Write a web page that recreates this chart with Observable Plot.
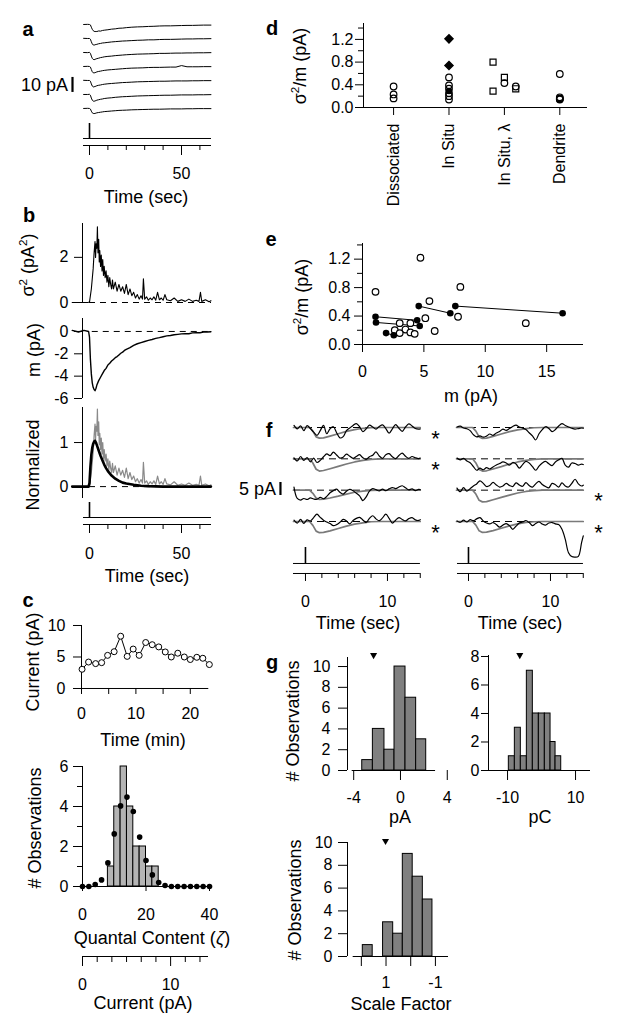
<!DOCTYPE html>
<html><head><meta charset="utf-8">
<script src="https://cdn.jsdelivr.net/npm/d3@7"></script>
<script src="https://cdn.jsdelivr.net/npm/@observablehq/plot@0.6"></script>
<style>
html,body{margin:0;padding:0;background:#fff;}
#fig{position:relative;width:624px;height:1023px;overflow:hidden;background:#fff;font-family:"Liberation Sans",Arial,Helvetica,sans-serif;color:#000;}
#fig svg{position:absolute;overflow:visible;background:transparent;max-width:none;}
.lab{position:absolute;white-space:nowrap;line-height:1;}
.lab sup{font-size:0.65em;vertical-align:0.6em;line-height:0;}
</style></head><body><div id="fig"></div>
<script>
// ---------------- DATA ----------------
// Panel a: seven successive responses (pA) vs time (s)
const aTime = [-3.2, -1, 0, 0.5, 1, 1.5, 2, 2.5, 3, 3.5, 4, 5, 6, 7, 8, 10, 12, 14, 16, 18, 20, 23, 26, 29, 32, 35, 38, 41, 44, 47, 50, 53, 56, 59, 62, 66];
const aTrace1 = [0, 0.1, 0, -0.3, -1.8, -3.2, -4.1, -4.5, -4.8, -4.6, -4.7, -4.3, -4.4, -4.0, -3.8, -3.5, -3.1, -2.9, -2.5, -2.4, -2.1, -1.8, -1.6, -1.5, -1.3, -1.2, -1.0, -0.9, -0.9, -0.8, -0.7, -0.6, -0.6, -0.5, -0.4, -0.4];
const aTrace2 = [0.1, 0, 0, -0.5, -2.2, -3.6, -4.3, -4.4, -4.2, -4.0, -3.9, -3.5, -3.3, -3.0, -2.9, -2.6, -2.3, -2.1, -1.9, -1.7, -1.6, -1.4, -1.2, -1.1, -0.9, -0.9, -0.7, -0.6, -0.6, -0.5, -0.4, -0.3, -0.3, -0.2, -0.2, -0.1];
const aTrace3 = [0, -0.1, 0.1, -0.6, -2.4, -3.9, -4.6, -4.8, -4.6, -4.3, -4.1, -3.8, -3.4, -3.2, -2.9, -2.6, -2.4, -2.1, -1.9, -1.7, -1.5, -1.3, -1.1, -1.0, -0.9, -0.8, -0.6, -0.6, -0.5, -0.4, -0.4, -0.3, -0.3, -0.2, -0.2, -0.1];
const aTrace4 = [0, 0.1, 0, -0.4, -2.0, -3.5, -4.2, -4.3, -4.1, -3.9, -3.6, -3.3, -3.1, -2.8, -2.6, -2.3, -2.1, -1.9, -1.7, -1.5, -1.3, -1.1, -1.0, -0.9, -0.7, -0.6, -0.6, -0.5, -0.4, -0.4, 0.6, -0.2, -0.2, -0.2, -0.1, -0.1];
const aTrace5 = [0.1, 0, 0, -0.5, -2.3, -3.7, -4.3, -4.2, -4.0, -3.8, -3.5, -3.2, -3.0, -2.7, -2.5, -2.2, -2.0, -1.8, -1.6, -1.4, -1.3, -1.1, -0.9, -0.8, -0.7, -0.6, -0.5, -0.5, -0.4, -0.3, -0.3, -0.3, -0.2, -0.2, -0.1, -0.1];
const aTrace6 = [0, 0, 0.1, -0.5, -2.4, -3.8, -4.4, -4.5, -4.3, -4.1, -3.8, -3.5, -3.2, -3.0, -2.7, -2.4, -2.2, -1.9, -1.7, -1.5, -1.4, -1.2, -1.0, -0.9, -0.8, -0.7, -0.6, -0.5, -0.5, -0.4, -0.3, -0.3, -0.3, -0.2, -0.2, -0.1];
const aTrace7 = [0, 0.1, 0, -0.4, -1.8, -2.9, -3.3, -3.4, -3.3, -3.1, -2.9, -2.7, -2.5, -2.3, -2.1, -1.9, -1.7, -1.5, -1.3, -1.2, -1.1, -0.9, -0.8, -0.7, -0.6, -0.5, -0.5, -0.4, -0.3, -0.3, -0.3, -0.2, -0.2, -0.1, -0.1, -0.1];
const aTraces = [aTrace1, aTrace2, aTrace3, aTrace4, aTrace5, aTrace6, aTrace7];

// Panel b: variance, mean and normalized time courses
const bTime = [-9.4, -4, -1, 0, 1, 2, 2.5, 3, 3.3, 3.6,
  4, 4.3, 4.6, 5, 5.3, 5.6, 6, 6.4, 6.8, 7.2,
  7.6, 8, 8.5, 9, 9.5, 10, 10.5, 11, 11.5, 12,
  12.5, 13, 14, 15, 16, 17, 18, 19, 20, 21,
  22, 23, 24, 25, 26, 27, 28, 28.8, 29.3, 30,
  31, 32, 33, 34, 35, 36, 37, 38, 39, 40,
  41, 42, 44, 46, 48, 50, 52, 54, 56, 58,
  59.5, 60.3, 61, 63, 65, 66];
const bSigma2 = [0, 0, 0, 0.02, 0.6, 1.5, 2.2, 2.7, 2.0, 2.6,
  2.4, 3.35, 2.2, 2.8, 1.8, 2.3, 1.6, 2.1, 1.4, 1.9,
  1.2, 1.6, 1.1, 1.4, 0.9, 1.2, 0.7, 1.1, 0.8, 0.6,
  1.0, 0.6, 0.9, 0.5, 0.8, 0.5, 0.7, 0.4, 0.8, 0.35,
  0.6, 0.3, 0.45, 0.2, 0.35, 0.15, 0.3, 0.15, 1.05, 0.15,
  0.25, 0.1, 0.2, 0.12, 0.25, 0.1, 0.45, 0.12, 0.2, 0.1,
  0.35, 0.12, 0.08, 0.2, 0.05, 0.12, 0.05, 0.15, 0.05, 0.1,
  0.05, 0.45, 0.05, 0.12, 0.03, 0.08];
const bNormVar = [0, 0, 0, 0.01, 0.32, 0.79, 1.16, 1.42, 1.05, 1.37,
  1.26, 1.76, 1.16, 1.47, 0.95, 1.21, 0.84, 1.1, 0.74, 1.0,
  0.63, 0.84, 0.58, 0.74, 0.47, 0.63, 0.37, 0.58, 0.42, 0.32,
  0.53, 0.32, 0.47, 0.26, 0.42, 0.26, 0.37, 0.21, 0.42, 0.18,
  0.32, 0.16, 0.24, 0.11, 0.18, 0.08, 0.16, 0.08, 0.55, 0.08,
  0.13, 0.05, 0.11, 0.06, 0.13, 0.05, 0.24, 0.06, 0.11, 0.05,
  0.18, 0.06, 0.04, 0.11, 0.03, 0.06, 0.03, 0.08, 0.03, 0.05,
  0.03, 0.24, 0.03, 0.06, 0.02, 0.04];
const bMeanTime = [-9.4, -6, -3, -0.5, 0, 0.5, 1, 1.5, 2, 2.5,
  3, 3.5, 4, 5, 6, 7, 8, 9, 10, 11,
  12, 13, 14, 15, 16, 17, 18, 19, 20, 22,
  24, 26, 28, 30, 32, 34, 36, 38, 40, 42,
  44, 46, 48, 50, 52, 54, 56, 58, 60, 62,
  64, 66];
const bMean = [0.1, -0.05, 0.1, 0, -0.5, -2.5, -3.8, -4.6, -5.0, -5.2,
  -5.3, -5.1, -4.8, -4.4, -4.1, -3.8, -3.5, -3.3, -3.0, -2.85,
  -2.65, -2.5, -2.35, -2.25, -2.1, -1.95, -1.85, -1.7, -1.6, -1.45,
  -1.25, -1.1, -1.0, -0.9, -0.8, -0.72, -0.62, -0.55, -0.47, -0.4,
  -0.36, -0.3, -0.26, -0.22, -0.19, -0.2, -0.13, -0.1, -0.12, -0.06,
  -0.05, -0.02];
const bNormMeanTime = [-9.4, -0.5, 0, 0.5, 1, 1.5, 2, 2.5, 3, 3.5, 4, 5, 6, 7, 8, 9, 10, 12, 14, 16, 18, 20, 24, 28, 32, 40, 66];
const bNormMean = [0, 0, 0.08, 0.45, 0.72, 0.88, 0.97, 1.02, 1.04, 1.0, 0.94, 0.82, 0.7, 0.6, 0.5, 0.42, 0.35, 0.25, 0.18, 0.13, 0.09, 0.07, 0.04, 0.02, 0.01, 0, 0];

// Panel c: current over time, quantal-content histogram
const cTime = [0.1, 1.3, 2.6, 3.7, 4.8, 6.0, 7.2, 8.4, 9.5, 10.6, 11.8, 13.0, 14.2, 15.4, 16.5, 17.7, 18.9, 20.0, 21.2, 22.3, 23.5];
const cCurrent = [3.05, 4.2, 3.95, 4.1, 5.26, 5.84, 8.3, 5.1, 6.26, 5.26, 7.3, 6.95, 6.6, 5.8, 5.0, 5.6, 5.0, 4.6, 4.95, 4.8, 3.8];
const cBinEdges = [8, 10, 12, 14, 16, 18, 20, 22, 24];
const cBinCounts = [1, 4, 6, 4, 2, 2, 1, 1];
const cFitX = [0, 2, 4, 6, 8, 10, 12, 14, 16, 18, 20, 22, 24, 26, 28, 30, 32, 34, 36, 38, 40];
const cFitY = [0, 0, 0.1, 0.33, 1.18, 2.63, 4.03, 4.47, 3.75, 2.47, 1.3, 0.58, 0.2, 0.05, 0, 0, 0, 0, 0, 0, 0];
const cCurrentTicks = [0, 1.667, 3.333, 5, 6.667, 8.333, 10, 11.667, 13.333];

// Panel d: sigma^2/m by preparation
const dCategories = ["Dissociated", "In Situ", "In Situ, λ", "Dendrite"];
const dCircleCat = [1, 1, 1, 2, 2, 2, 2, 2, 2, 3, 3, 4, 4, 4, 4, 4];
const dCircleCol = [0, 0, 0, 0, 0, 0, 0, 0, 0, 0, 1, 0, 0, 0, 0, 0];
const dCircleVal = [0.37, 0.23, 0.16, 0.53, 0.39, 0.33, 0.25, 0.2, 0.14, 0.43, 0.37, 0.59, 0.18, 0.16, 0.15, 0.14];
const dFilledCat = [2];
const dFilledVal = [0.29];
const dDiamondCat = [2, 2];
const dDiamondVal = [1.21, 0.74];
const dSquareCat = [3, 3, 3, 3];
const dSquareCol = [-1, -1, 0, 1];
const dSquareVal = [0.8, 0.29, 0.53, 0.33];

// Panel e: sigma^2/m vs m
const eOpenM = [1.06, 4.72, 7.97, 5.45, 5.12, 7.78, 13.3, 3.03, 3.9, 5.88, 2.63, 3.5, 3.9, 4.25, 3.03];
const eOpenV = [0.74, 1.22, 0.81, 0.61, 0.37, 0.39, 0.30, 0.30, 0.30, 0.19, 0.20, 0.21, 0.17, 0.15, 0.16];
const ePairM1 = [1.06, 1.1, 4.58, 7.56, 1.92];
const ePairV1 = [0.39, 0.31, 0.54, 0.54, 0.16];
const ePairM2 = [4.45, 4.66, 7.15, 16.3, 2.55];
const ePairV2 = [0.34, 0.26, 0.44, 0.44, 0.13];

// Panel f: single trials (black) vs scaled template (gray), pA
const fGrayTime = [-1.46, 0.5, 0.9, 1.3, 1.7, 2.2, 3, 4, 5, 6, 7, 8, 9, 14];
const fGrayL = [
  [0, 0, -1.4, -3.6, -4.1, -4.0, -3.3, -2.4, -1.5, -0.8, -0.3, -0.1, 0, 0],
  [0, 0, -1.6, -4.0, -4.7, -4.5, -3.8, -2.9, -2.0, -1.2, -0.6, -0.2, 0, 0],
  [0, 0, -1.2, -3.0, -3.6, -3.5, -3.0, -2.3, -1.5, -0.8, -0.4, -0.1, 0, 0],
  [0, 0, -1.5, -3.7, -4.3, -4.2, -3.6, -2.7, -1.8, -1.0, -0.5, -0.1, 0, 0]];
const fGrayR = [
  [0, 0, -1.4, -3.6, -4.2, -4.1, -3.4, -2.5, -1.6, -0.9, -0.4, -0.1, 0, 0],
  [0, 0, -1.6, -4.1, -4.7, -4.6, -3.9, -3.0, -2.0, -1.2, -0.6, -0.2, 0, 0],
  [0, 0, -1.5, -3.9, -4.5, -4.4, -3.7, -2.8, -1.9, -1.1, -0.5, -0.2, 0, 0],
  [0, 0, -1.4, -3.6, -4.2, -4.1, -3.5, -2.6, -1.7, -0.9, -0.4, -0.1, 0, 0]];
const fTime = [-1.4, -1.0, -0.6, -0.2, 0.2, 0.6, 1.0, 1.4, 1.8, 2.2,
  2.6, 3.0, 3.4, 3.8, 4.2, 4.6, 5.0, 5.4, 5.8, 6.2,
  6.6, 7.0, 7.4, 7.8, 8.2, 8.6, 9.0, 9.4, 9.8, 10.2,
  10.6, 11.0, 11.4, 11.8, 12.2, 12.6, 13.0, 13.4, 13.8, 14.0];
const fBlackL = [
  [0.8, -0.5, 0.6, -1.2, 0.7, -0.4, -1.8, -3.0, -1.2, 0.8,
   -2.4, -0.5, 0.3, -2.0, -4.0, -3.5, -1.2, -0.2, 0.8, 1.5,
   0.3, -1.6, -0.5, 0.9, 0.2, -0.6, 0.4, 1.0, -0.4, -2.2,
   -0.5, 1.1, -0.3, -1.5, 0.2, 1.4, 0.6, -0.4, -0.6, -0.5],
  [0.4, -0.8, 0.9, -0.6, 0.5, -1.2, 0.3, -1.4, -0.6, 0.8,
   1.9, 1.2, 2.6, 1.5, 0.3, 0.6, 1.8, 1.0, 0.2, 0.9,
   1.6, 0.4, -0.2, 0.8, 1.4, 2.7, 1.1, 0.2, 1.6, 2.0,
   0.8, 0.1, 1.3, 2.2, 1.0, 0.2, 0.9, 0.4, 0.1, 0.3],
  [1.2, -3.2, -3.8, -3.2, -3.6, -3.0, -3.4, -3.5, -2.8, -3.3,
   -2.4, -1.0, -0.2, 0.4, -0.8, -1.5, -0.4, 0.3, -0.2, -1.2,
   -2.2, -4.0, -2.6, -0.4, 0.6, 0.2, -0.3, 0.4, -0.2, 0.5,
   1.0, 0.6, 1.2, 1.7, 0.9, 0.1, 0.5, -0.2, 0.3, 0.2],
  [0.5, -0.6, 0.8, -0.7, 0.6, 0.2, 1.5, 2.8, 1.6, 0.5,
   -0.2, -0.8, -1.6, -1.2, -0.3, 0.8, 0.2, -0.9, 0.4, 1.2,
   1.6, 0.6, -0.4, 1.2, 2.2, 1.0, 0.3, 1.4, 2.8, 1.2,
   -0.6, 0.5, 1.5, 0.8, 0.2, 1.1, 1.5, 0.6, 0.4, 0.7]];
const fBlackR = [
  [0.2, 0.5, -0.2, -0.5, -1.2, -2.8, -3.6, -3.2, -3.7, -3.3,
   -2.5, -3.0, -2.1, -1.5, -0.6, -1.1, -0.4, 0.4, 0.9, 0.2,
   -0.2, -0.8, -2.0, -3.2, -4.8, -2.4, -0.8, 0.3, -0.4, -1.6,
   -0.8, 0.6, 1.5, 0.8, 0.2, -0.3, -0.6, -0.4, -0.2, -0.3],
  [0.3, -0.4, 0.2, -0.8, -1.5, -3.0, -4.4, -3.6, -4.2, -3.4,
   -3.9, -3.1, -2.4, -1.8, -1.2, -1.6, -2.4, -1.4, -2.0, -3.6,
   -2.2, -1.0, -1.6, -3.0, -4.4, -2.8, -1.6, -1.0, -1.9, -2.6,
   -1.2, -0.4, 0.2, -2.4, -3.2, -1.6, -1.8, -2.4, -2.0, -2.2],
  [0.8, -0.6, 1.0, -0.4, 0.6, 1.6, 2.4, 3.6, 2.6, 1.4,
   1.8, 3.0, 2.0, 1.2, 1.6, 2.6, 1.8, 1.4, 2.8, 2.0,
   1.5, 2.9, 1.8, 1.2, 2.4, 3.4, 2.2, 1.4, 0.9, 2.6,
   2.1, 1.2, 2.8, 1.6, 1.2, 2.6, 4.2, 2.4, 1.6, 1.9],
  [0.2, -0.3, 0.5, -0.2, 0.7, 0.3, 1.0, 1.5, 0.2, -0.6,
   -0.9, -0.4, -1.2, -2.2, -1.4, -0.8, -1.6, -3.0, -1.8, -0.6,
   -0.2, 0.3, -0.4, -1.6, -0.8, -0.2, -1.0, -1.4, -0.6, -0.4,
   -0.9, -1.2, -3.0, -6.8, -12.0, -13.5, -13.7, -13.4, -8.0, -5.5]];
const fStarRowsL = [0, 1, 3];
const fStarRowsR = [2, 3];

// Panel g: histograms
const gAmpEdges = [-4.13, -3.27, -2.36, -1.37, -0.51, 0.43, 1.34, 2.2, 3.0];
const gAmpCounts = [0, 1, 4, 2, 10, 7, 3, 0];
const gAmpMean = -2.3;
const gChgEdges = [-9.62, -7.85, -6.09, -4.32, -2.56, -0.79, 0.97, 2.65, 4.12, 5.79];
const gChgCounts = [1, 3, 1, 7, 4, 4, 4, 2, 1];
const gChgMean = -6.4;
const gScaleEdges = [2.33, 1.94, 1.54, 1.12, 0.71, 0.32, -0.08, -0.49, -0.88, -1.53];
const gScaleCounts = [0, 1, 0, 3, 2, 9, 7, 5, 0];
const gScaleMean = 1.02;

// ---------------- DRAWING ----------------
const FONT = '"Liberation Sans", Arial, Helvetica, sans-serif';
const fig = document.getElementById("fig");

function mk(o) {
  const svg = Plot.plot({
    width: o.fx1 - o.fx0 + o.mL + o.mR,
    height: o.fy1 - o.fy0 + o.mT + o.mB,
    marginLeft: o.mL, marginRight: o.mR, marginTop: o.mT, marginBottom: o.mB,
    x: o.x, y: o.y,
    style: {fontFamily: FONT, fontSize: (o.fs || 16) + "px", color: "#000", background: "transparent", overflow: "visible"},
    marks: o.marks
  });
  svg.style.position = "absolute";
  svg.style.left = (o.fx0 - o.mL) + "px";
  svg.style.top = (o.fy0 - o.mT) + "px";
  fig.appendChild(svg);
}
function lab(html, x, y, o = {}) {
  const d = document.createElement("div");
  d.className = "lab";
  d.innerHTML = html;
  d.style.left = x + "px";
  d.style.top = y + "px";
  d.style.fontSize = (o.size || 18) + "px";
  if (o.bold) d.style.fontWeight = "bold";
  const tx = o.anchor === "end" ? "-100%" : "-50%";
  d.style.transform = `translate(${tx},-50%)` + (o.rot ? " rotate(-90deg)" : "");
  fig.appendChild(d);
}
const fmt0 = d => String(d);
const fmt1 = d3.format(".1f");
const ax = (dir, ticks, size, pad, fmt = fmt0, extra = {}) =>
  (dir === "x" ? Plot.axisX : Plot.axisY)({ticks, tickSize: size, tickPadding: pad, tickFormat: fmt, label: null, ...extra});
const minor = (dir, ticks, size) => ax(dir, ticks, size, 0, () => "");
const pairs = (ts, vs, off = 0) => ts.map((t, k) => ({t, v: vs[k] + off}));
const bins = (edges, counts) => counts.map((c, i) => ({x1: edges[i], x2: edges[i + 1], c})).filter(b => b.c > 0);
const triDown = {draw(ctx, size) { const r = Math.sqrt(size / Math.PI); ctx.moveTo(-r * 1.1, -r * 0.75); ctx.lineTo(r * 1.1, -r * 0.75); ctx.lineTo(0, r * 1.15); ctx.closePath(); }};

// ---- panel a
const A_ROW = 9.33;
mk({fx0: 83, fx1: 211, fy0: 16, fy1: 145, mL: 15, mR: 5, mT: 2, mB: 30,
  x: {domain: [-3.26, 66.3]}, y: {domain: [-80.67, 5.33], axis: null},
  marks: [
    aTraces.map((vals, i) => Plot.line(pairs(aTime, vals, -i * A_ROW), {x: "t", y: "v", stroke: "#000", strokeWidth: 1})),
    Plot.ruleX([0], {y1: -66, y2: -76, strokeWidth: 1.6}),
    Plot.ruleY([-76], {x1: -3.26, x2: 66.3}),
    Plot.ruleY([-80.67]),
    ax("x", [0, 50], 10, 12), minor("x", [10, 20, 30, 40, 60], 5),
    Plot.ruleX([-9.24], {y1: -35.3, y2: -45.3, strokeWidth: 2.2})
  ]});

// ---- panel b
const bX = {domain: [-3.8, 66.3], axis: null};
mk({fx0: 82, fx1: 211, fy0: 223, fy1: 302, mL: 30, mR: 5, mT: 5, mB: 5, x: bX, y: {domain: [0, 3.5]},
  marks: [
    Plot.ruleY([0], {x1: 0, x2: 66.3, strokeDasharray: "6,5"}),
    Plot.line(pairs(bTime, bSigma2), {x: "t", y: "v", stroke: "#000", strokeWidth: 1.1}),
    Plot.ruleX([-3.8]),
    ax("y", [0, 2], 8, 6)
  ]});
mk({fx0: 82, fx1: 211, fy0: 318, fy1: 398, mL: 30, mR: 5, mT: 5, mB: 5, x: bX, y: {domain: [-6, 1.16]},
  marks: [
    Plot.ruleY([0], {x1: 1.5, x2: 66.3, strokeDasharray: "6,5"}),
    Plot.line(pairs(bMeanTime, bMean), {x: "t", y: "v", stroke: "#000", strokeWidth: 1.4}),
    Plot.ruleX([-3.8]),
    ax("y", [0, -2, -4, -6], 8, 6)
  ]});
mk({fx0: 82, fx1: 211, fy0: 407, fy1: 498, mL: 30, mR: 5, mT: 5, mB: 5, x: bX, y: {domain: [-0.27, 1.795]},
  marks: [
    Plot.ruleY([0], {x1: 0, x2: 66.3, strokeDasharray: "6,5"}),
    Plot.line(pairs(bTime, bNormVar), {x: "t", y: "v", stroke: "#8a8a8a", strokeWidth: 1.2}),
    Plot.line(pairs(bNormMeanTime, bNormMean), {x: "t", y: "v", stroke: "#000", strokeWidth: 2.6}),
    Plot.ruleX([-3.8]),
    ax("y", [0, 1], 8, 6)
  ]});
mk({fx0: 83, fx1: 211, fy0: 499, fy1: 524, mL: 5, mR: 5, mT: 2, mB: 30,
  x: {domain: [-3.26, 66.3]}, y: {domain: [0, 25], axis: null},
  marks: [
    Plot.ruleX([0], {y1: 7, y2: 22, strokeWidth: 1.6}),
    Plot.ruleY([7], {x1: -3.26, x2: 66.3}),
    Plot.ruleY([0]),
    ax("x", [0, 50], 9, 14), minor("x", [10, 20, 30, 40, 60], 5)
  ]});

// ---- panel c
mk({fx0: 81, fx1: 208.3, fy0: 625, fy1: 688, mL: 40, mR: 8, mT: 5, mB: 30,
  x: {domain: [0, 23.4]}, y: {domain: [0, 10]},
  marks: [
    Plot.ruleX([0]), Plot.ruleY([0]),
    Plot.line(pairs(cTime, cCurrent), {x: "t", y: "v", stroke: "#000", strokeWidth: 1}),
    Plot.dot(pairs(cTime, cCurrent), {x: "t", y: "v", r: 3, fill: "#fff", stroke: "#000", strokeWidth: 1}),
    ax("y", [0, 5, 10], 8, 8),
    ax("x", [0, 10, 20], 6, 13), minor("x", [5, 15], 6)
  ]});
mk({fx0: 82, fx1: 209, fy0: 766, fy1: 886, mL: 40, mR: 8, mT: 5, mB: 30,
  x: {domain: [0, 40]}, y: {domain: [0, 6]},
  marks: [
    Plot.rect(bins(cBinEdges, cBinCounts), {x1: "x1", x2: "x2", y1: 0, y2: "c", fill: "#b4b4b4", stroke: "#000", strokeWidth: 1}),
    Plot.ruleY([0]), Plot.ruleX([0]),
    Plot.dot(pairs(cFitX, cFitY), {x: "t", y: "v", r: 2.8, fill: "#000"}),
    ax("y", [0, 2, 4, 6], 9, 5), minor("y", [1, 3, 5], 5),
    ax("x", [0, 20, 40], 5, 17)
  ]});
mk({fx0: 82, fx1: 208, fy0: 940, fy1: 956, mL: 5, mR: 8, mT: 2, mB: 30,
  x: {domain: [0, 14.3]}, y: {domain: [0, 1], axis: null},
  marks: [
    Plot.ruleY([0]),
    ax("x", [0, 10], 10, 12), minor("x", cCurrentTicks.filter(v => v !== 0 && v !== 10), 6)
  ]});

// ---- panel d
const D_JIT = 0.205;
const dx = (cat, col) => cat + col * D_JIT;
mk({fx0: 363, fx1: 587, fy0: 23, fy1: 107, mL: 40, mR: 5, mT: 5, mB: 10,
  x: {domain: [0.457, 4.5]}, y: {domain: [0, 1.48]},
  marks: [
    Plot.ruleX([0.457]), Plot.ruleY([0]),
    ax("y", [0, 0.4, 0.8, 1.2], 8, 2, fmt1), minor("y", [0.2, 0.6, 1.0, 1.4], 5),
    Plot.axisX({ticks: [1, 2, 3, 4], tickSize: 8, tickPadding: 8, tickRotate: -90, tickFormat: i => dCategories[i - 1], label: null, fontSize: 16}),
    Plot.dot(dCircleVal.map((v, i) => ({x: dx(dCircleCat[i], dCircleCol[i]), v})), {x: "x", y: "v", r: 3.3, fill: "none", stroke: "#000", strokeWidth: 1.2}),
    Plot.dot(dFilledVal.map((v, i) => ({x: dx(dFilledCat[i], 0), v})), {x: "x", y: "v", r: 3.3, fill: "#000"}),
    Plot.dot(dDiamondVal.map((v, i) => ({x: dx(dDiamondCat[i], 0), v})), {x: "x", y: "v", r: 3.6, symbol: "diamond2", fill: "#000", stroke: "#000"}),
    Plot.dot(dSquareVal.map((v, i) => ({x: dx(dSquareCat[i], dSquareCol[i]), v})), {x: "x", y: "v", r: 3.4, symbol: "square", fill: "none", stroke: "#000", strokeWidth: 1.2})
  ]});

// ---- panel e
mk({fx0: 362, fx1: 583, fy0: 243, fy1: 344, mL: 40, mR: 8, mT: 5, mB: 30,
  x: {domain: [0, 18]}, y: {domain: [0, 1.42]},
  marks: [
    Plot.ruleX([0]), Plot.ruleY([0]),
    ax("y", [0, 0.4, 0.8, 1.2], 8, 4, fmt1), minor("y", [0.2, 0.6, 1.0, 1.4], 5),
    ax("x", [0, 5, 10, 15], 8, 13),
    Plot.link(ePairM1.map((m, i) => ({m1: m, v1: ePairV1[i], m2: ePairM2[i], v2: ePairV2[i]})), {x1: "m1", y1: "v1", x2: "m2", y2: "v2", stroke: "#000", strokeWidth: 1}),
    Plot.dot(pairs(eOpenM, eOpenV), {x: "t", y: "v", r: 3.3, fill: "#fff", stroke: "#000", strokeWidth: 1.2}),
    Plot.dot(pairs(ePairM1, ePairV1).concat(pairs(ePairM2, ePairV2)), {x: "t", y: "v", r: 3.3, fill: "#000"})
  ]});

// ---- panel f
const F_ROW = 12.05;
function fPanel(fx0, xmin, blacks, grays, starRows, withBar) {
  const xmax = 14.02;
  mk({fx0, fx1: fx0 + (xmax - xmin) * 8.2, fy0: 410, fy1: 573, mL: 30, mR: 25, mT: 2, mB: 30,
    x: {domain: [xmin, xmax]}, y: {domain: [-56.15, 6.54], axis: null},
    marks: [
      blacks.map((vals, i) => [
        Plot.ruleY([-i * F_ROW], {x1: xmin, x2: xmax, strokeDasharray: "7,5", strokeWidth: 1}),
        Plot.line(pairs(fGrayTime, grays[i], -i * F_ROW), {x: "t", y: "v", stroke: "#7a7a7a", strokeWidth: 1.7}),
        Plot.line(pairs(fTime, vals, -i * F_ROW), {x: "t", y: "v", stroke: "#000", strokeWidth: 1.2, curve: "catmull-rom"})
      ]),
      Plot.text(starRows, {x: xmax, y: r => -r * F_ROW, text: () => "*", dx: 15, dy: 11, fontSize: 22}),
      Plot.ruleX([0], {y1: -46.15, y2: -52.3, strokeWidth: 1.6}),
      Plot.ruleY([-52.3], {x1: xmin, x2: xmax}),
      Plot.ruleY([-56.15]),
      ax("x", [0, 10], 8, 14), minor("x", [2, 4, 6, 8, 12, 14], 5),
      withBar ? Plot.ruleX([-3.05], {y1: -21.15, y2: -26.15, strokeWidth: 2.2}) : null
    ]});
}
fPanel(293, -1.46, fBlackL, fGrayL, fStarRowsL, true);
fPanel(457, -1.34, fBlackR, fGrayR, fStarRowsR, false);

// ---- panel g
const gBar = {fill: "#808080", stroke: "#000", strokeWidth: 1};
mk({fx0: 347, fx1: 447, fy0: 657, fy1: 770, mL: 40, mR: 8, mT: 8, mB: 30,
  x: {domain: [-4.53, 4.02]}, y: {domain: [0, 10.87]},
  marks: [
    Plot.rect(bins(gAmpEdges, gAmpCounts), {x1: "x1", x2: "x2", y1: 0, y2: "c", ...gBar}),
    Plot.ruleY([0], {x1: gAmpEdges[0], x2: gAmpEdges[gAmpEdges.length - 1]}),
    Plot.ruleX([-4.53]),
    ax("y", [0, 2, 4, 6, 8, 10], 9, 8),
    ax("x", [-4, 0, 4], 10, 11),
    Plot.dot([gAmpMean], {x: d => d, y: 11.06, r: 3.2, symbol: triDown, fill: "#000"})
  ]});
mk({fx0: 488, fx1: 590, fy0: 655, fy1: 770, mL: 30, mR: 8, mT: 8, mB: 30,
  x: {domain: [-15.6, 14.4]}, y: {domain: [0, 8.07]},
  marks: [
    Plot.rect(bins(gChgEdges, gChgCounts), {x1: "x1", x2: "x2", y1: 0, y2: "c", ...gBar}),
    Plot.ruleY([0]),
    Plot.ruleX([-15.6]),
    ax("y", [0, 2, 4, 6, 8], 7, 2),
    ax("x", [-10, 10], 10, 11),
    Plot.dot([gChgMean], {x: d => d, y: 8.07, r: 3.2, symbol: triDown, fill: "#000"})
  ]});
mk({fx0: 347, fx1: 448, fy0: 842, fy1: 956, mL: 40, mR: 8, mT: 8, mB: 30,
  x: {domain: [2.56, -1.53]}, y: {domain: [0, 10]},
  marks: [
    Plot.rect(bins(gScaleEdges, gScaleCounts), {x1: "x1", x2: "x2", y1: 0, y2: "c", ...gBar}),
    Plot.ruleY([0], {x1: gScaleEdges[0], x2: gScaleEdges[gScaleEdges.length - 1]}),
    Plot.ruleX([2.56]),
    ax("y", [0, 2, 4, 6, 8, 10], 9, 6),
    ax("x", [1, -1], 10, 10), minor("x", [2, 0], 10),
    Plot.dot([gScaleMean], {x: d => d, y: 10.1, r: 3.2, symbol: triDown, fill: "#000"})
  ]});

// ---- text labels
lab("a", 28, 29, {bold: true, size: 20});
lab("b", 29, 215, {bold: true, size: 20});
lab("c", 28, 600, {bold: true, size: 20});
lab("d", 272, 28, {bold: true, size: 20});
lab("e", 271, 239, {bold: true, size: 20});
lab("f", 269, 430, {bold: true, size: 20});
lab("g", 272, 662, {bold: true, size: 20});
lab("10 pA", 68, 85, {anchor: "end"});
lab("Time (sec)", 146, 197);
lab("σ<sup>2</sup> (pA<sup>2</sup>)", 28, 265, {rot: true});
lab("m (pA)", 34, 350, {rot: true});
lab("Normalized", 33, 465, {rot: true});
lab("Time (sec)", 147, 576);
lab("Current (pA)", 33, 662, {rot: true});
lab("Time (min)", 143, 740);
lab("# Observations", 35, 828, {rot: true});
lab("Quantal Content (<i>ζ</i>)", 152, 938);
lab("Current (pA)", 143, 1003);
lab("σ<sup>2</sup>/m (pA)", 300, 66, {rot: true});
lab("σ<sup>2</sup>/m (pA)", 302, 297, {rot: true});
lab("m (pA)", 471, 396);
lab("5 pA", 276, 489, {anchor: "end"});
lab("Time (sec)", 358, 623);
lab("Time (sec)", 520, 623);
lab("# Observations", 293, 721, {rot: true});
lab("pA", 400, 817);
lab("pC", 540, 817);
lab("# Observations", 295, 900, {rot: true});
lab("Scale Factor", 401, 1004);
</script></body></html>
